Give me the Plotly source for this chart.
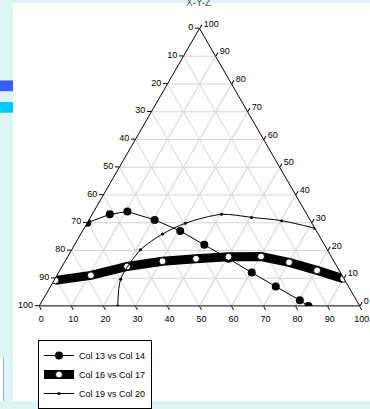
import plotly.graph_objects as go

# Reference axis readings (percent): a = height above bottom edge, c = bottom-axis value
s1_a = [30, 33, 34, 31, 27, 22, 17, 12, 7, 2, 0]
s1_c = [0, 5.5, 10.5, 20.5, 30.5, 40.5, 50.6, 60.3, 70.3, 80.3, 84]

s2_a = [9.2, 11, 14.2, 16.1, 17, 17.7, 17.8, 15.7, 12.8, 9.8]
s2_c = [0.4, 10.6, 20.3, 30.4, 40.4, 50.2, 60.3, 70.1, 80.3, 90]

s3_a = [0, 9.6, 20.2, 25.9, 29.8, 33, 31.9, 30.7, 28]
s3_c = [24.5, 20.6, 21.5, 25.5, 30.7, 40.4, 50.3, 60.3, 72]

tick_vals = [0, 10, 20, 30, 40, 50, 60, 70, 80, 90, 100]
tick_text = [str(100 - v) for v in tick_vals]

names = ["Col 13 vs Col 14", "Col 16 vs Col 17", "Col 19 vs Col 20"]


def rest(a, c):
    return [100 - x - y for x, y in zip(a, c)]


fig = go.Figure()
fig.add_trace(go.Scatterternary(
    a=s1_a, b=rest(s1_a, s1_c), c=s1_c, mode="lines+markers", name=names[0],
    line=dict(color="black", width=1),
    marker=dict(symbol="circle", size=8, color="black"),
))
fig.add_trace(go.Scatterternary(
    a=s2_a, b=rest(s2_a, s2_c), c=s2_c, mode="lines+markers", name=names[1],
    line=dict(color="black", width=9),
    marker=dict(symbol="circle", size=7, color="white", line=dict(color="black", width=1)),
))
fig.add_trace(go.Scatterternary(
    a=s3_a, b=rest(s3_a, s3_c), c=s3_c, mode="lines+markers", name=names[2],
    line=dict(color="black", width=1, shape="spline", smoothing=0.8),
    marker=dict(symbol="circle", size=3, color="black"),
))

axis_common = dict(
    min=0, tickmode="array", tickvals=tick_vals, ticktext=tick_text,
    ticks="outside", ticklen=4, tickcolor="black",
    linecolor="black", linewidth=1, showline=True,
    gridcolor="#d4d4d4", gridwidth=1, showgrid=True,
    tickfont=dict(family="Liberation Sans, Arial", size=9, color="black"),
    title=dict(text=""),
)

H = 409
W = 370
fig.update_layout(
    width=W, height=H,
    margin=dict(l=0, r=0, t=0, b=0),
    paper_bgcolor="#dcf5f2",
    plot_bgcolor="white",
    ternary=dict(
        sum=100,
        bgcolor="white",
        domain=dict(x=[36 / W, 363 / W], y=[(H - 312) / H, (H - 29) / H]),
        aaxis=axis_common, baxis=axis_common, caxis=axis_common,
    ),
    showlegend=True,
    legend=dict(
        x=38 / W, y=(H - 347) / H, xanchor="left", yanchor="top",
        bgcolor="white", bordercolor="black", borderwidth=1,
        font=dict(family="Liberation Sans, Arial", size=9, color="black"),
        tracegroupgap=0, itemwidth=30,
    ),
    shapes=[
        dict(type="rect", xref="paper", yref="paper", x0=13 / W, x1=1, y0=0, y1=(H - 3) / H,
             fillcolor="white", line=dict(width=0), layer="below"),
        dict(type="rect", xref="paper", yref="paper", x0=0, x1=13 / W, y0=(H - 93) / H, y1=(H - 82) / H,
             fillcolor="#3a5cff", line=dict(width=0), layer="below"),
        dict(type="rect", xref="paper", yref="paper", x0=0, x1=13 / W, y0=(H - 115) / H, y1=(H - 104) / H,
             fillcolor="#00c8fa", line=dict(width=0), layer="below"),
        dict(type="rect", xref="paper", yref="paper", x0=0, x1=3 / W, y0=0, y1=(H - 365) / H,
             fillcolor="white", line=dict(width=0), layer="below"),
        dict(type="line", xref="paper", yref="paper", x0=3.5 / W, x1=3.5 / W, y0=0, y1=(H - 365) / H,
             line=dict(color="#a0b4b4", width=1), layer="below"),
    ],
    annotations=[
        dict(text="X-Y-Z", xref="paper", yref="paper", x=198 / W, y=1, yanchor="middle",
             yshift=-2, showarrow=False, font=dict(family="Liberation Sans, Arial", size=10, color="#555")),
    ],
)

fig.write_html("out.html", config={"displayModeBar": False},
               post_script="document.body.style.margin='0';document.body.style.overflow='hidden';")
